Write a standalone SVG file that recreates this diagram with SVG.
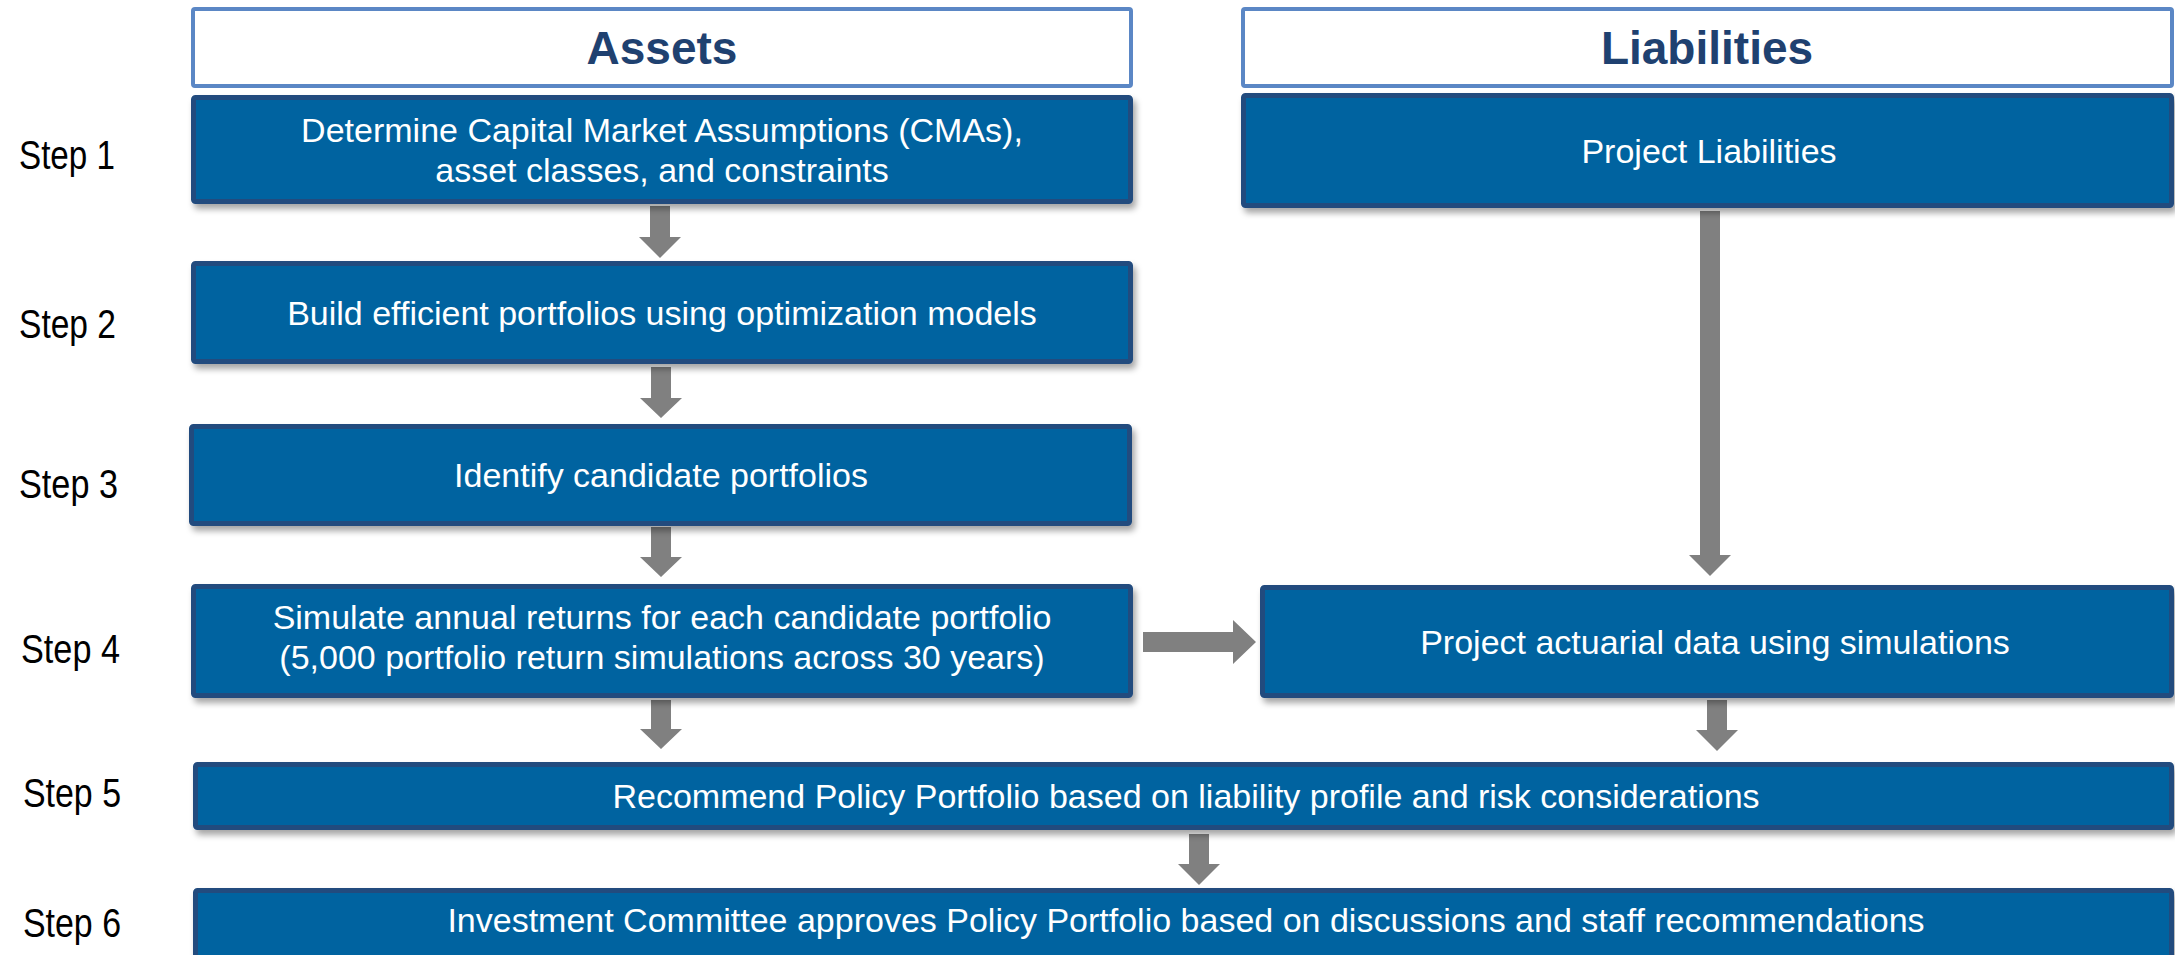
<svg xmlns="http://www.w3.org/2000/svg" width="2175" height="955" viewBox="0 0 2175 955">
<defs>
<style>
.hdr{fill:#fff;stroke:#5B87C5;stroke-width:4}
.box{fill:#0063A0;stroke:#234B7E;stroke-width:5}
.sh{filter:url(#shadow)}
.bt{font-family:"Liberation Sans",Arial,sans-serif;font-size:34px;fill:#fff;text-anchor:middle}
.tt{font-family:"Liberation Sans",Arial,sans-serif;font-size:46px;font-weight:bold;fill:#1F4170;text-anchor:middle}
.st{font-family:"Liberation Sans",Arial,sans-serif;font-size:41px;fill:#000}
.arr{fill:#808080}
</style>
<filter id="shadow" x="-5%" y="-20%" width="110%" height="150%">
<feDropShadow dx="3" dy="5" stdDeviation="3" flood-color="#000" flood-opacity="0.35"/>
</filter>
</defs>
<rect width="2175" height="955" fill="#fff"/>

<g id="header-assets">
<rect class="hdr" x="193" y="9" width="938" height="77" rx="2"/>
<text class="tt" x="662" y="64">Assets</text>
</g>
<g id="header-liabilities">
<rect class="hdr" x="1243" y="9" width="929" height="77" rx="2"/>
<text class="tt" x="1707" y="64">Liabilities</text>
</g>

<g id="step-labels">
<text class="st" x="19" y="169" textLength="96" lengthAdjust="spacingAndGlyphs">Step 1</text>
<text class="st" x="19" y="338" textLength="97" lengthAdjust="spacingAndGlyphs">Step 2</text>
<text class="st" x="19" y="498" textLength="99" lengthAdjust="spacingAndGlyphs">Step 3</text>
<text class="st" x="21" y="663" textLength="99" lengthAdjust="spacingAndGlyphs">Step 4</text>
<text class="st" x="23" y="807" textLength="98" lengthAdjust="spacingAndGlyphs">Step 5</text>
<text class="st" x="23" y="937" textLength="98" lengthAdjust="spacingAndGlyphs">Step 6</text>
</g>

<g id="connectors">
<polygon class="arr" points="650,206 670,206 670,237 681,237 660,258 639,237 650,237"/>
<polygon class="arr" points="651,367 671,367 671,398 682,398 661,418 640,398 651,398"/>
<polygon class="arr" points="651,527 671,527 671,557 682,557 661,577 640,557 651,557"/>
<polygon class="arr" points="651,700 671,700 671,729 682,729 661,749 640,729 651,729"/>
<polygon class="arr" points="1700,211 1720,211 1720,555 1731,555 1710,576 1689,555 1700,555"/>
<polygon class="arr" points="1707,700 1727,700 1727,730 1738,730 1717,751 1696,730 1707,730"/>
<polygon class="arr" points="1189,834 1209,834 1209,864 1220,864 1199,885 1178,864 1189,864"/>
<polygon class="arr" points="1143,632 1233,632 1233,620 1256,642 1233,664 1233,652 1143,652"/>
</g>

<g id="step1">
<rect class="box sh" x="193.5" y="97.5" width="937" height="104" rx="2"/>
<text class="bt" x="662" y="142">Determine Capital Market Assumptions (CMAs),</text>
<text class="bt" x="662" y="182">asset classes, and constraints</text>
</g>
<g id="project-liabilities">
<rect class="box sh" x="1243.5" y="95.5" width="928" height="110" rx="2"/>
<text class="bt" x="1709" y="163">Project Liabilities</text>
</g>
<g id="step2">
<rect class="box sh" x="193.5" y="263.5" width="937" height="98" rx="2"/>
<text class="bt" x="662" y="325">Build efficient portfolios using optimization models</text>
</g>
<g id="step3">
<rect class="box sh" x="191.5" y="426.5" width="938" height="97" rx="2"/>
<text class="bt" x="661" y="487">Identify candidate portfolios</text>
</g>
<g id="step4">
<rect class="box sh" x="193.5" y="586.5" width="937" height="109" rx="2"/>
<text class="bt" x="662" y="629">Simulate annual returns for each candidate portfolio</text>
<text class="bt" x="662" y="669">(5,000 portfolio return simulations across 30 years)</text>
</g>
<g id="project-actuarial">
<rect class="box sh" x="1262.5" y="587.5" width="909" height="108" rx="2"/>
<text class="bt" x="1715" y="654">Project actuarial data using simulations</text>
</g>
<g id="step5">
<rect class="box sh" x="195.5" y="764.5" width="1976" height="63" rx="2"/>
<text class="bt" x="1186" y="808">Recommend Policy Portfolio based on liability profile and risk considerations</text>
</g>
<g id="step6">
<rect class="box sh" x="195.5" y="890.5" width="1976" height="72" rx="2"/>
<text class="bt" x="1186" y="932">Investment Committee approves Policy Portfolio based on discussions and staff recommendations</text>
</g>
</svg>
